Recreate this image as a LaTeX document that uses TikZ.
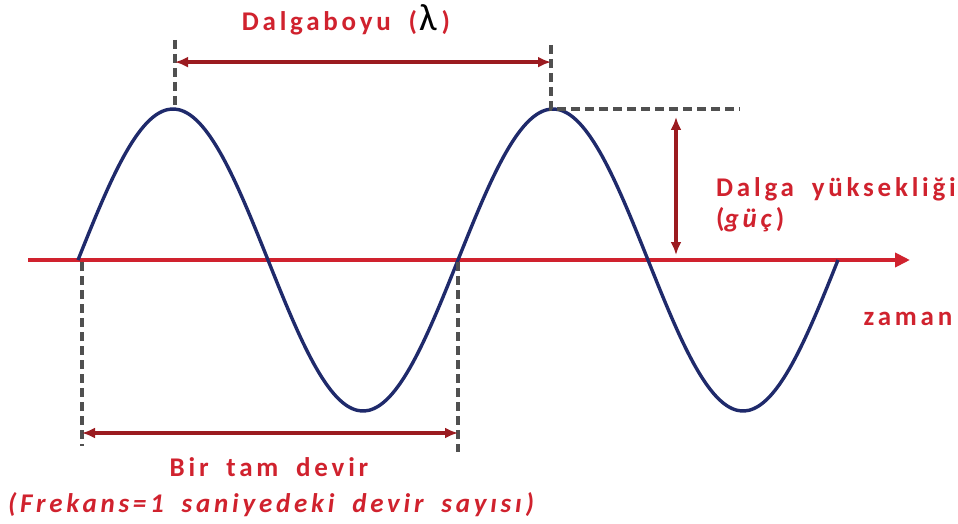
\documentclass[tikz,border=0pt]{standalone}
\usepackage{fontspec}
\setmainfont{Carlito}
\newfontfamily\lblfont[LetterSpace=14, WordSpace=1.8]{Carlito}
\newfontfamily\lamfont{Carlito}
\usetikzlibrary{arrows.meta, positioning, calc}
\definecolor{axisc}{HTML}{D0222E}
\definecolor{arrowc}{HTML}{9B1B20}
\definecolor{wavec}{HTML}{1F2A6B}
\definecolor{dashc}{HTML}{505050}

\begin{document}
\begin{tikzpicture}[
  x=1pt, y=-1pt,
  lbl/.style={text=axisc, font=\lblfont\bfseries\fontsize{27}{31}\selectfont, inner sep=0pt, anchor=base},
  guide/.style={dashc, line width=3.4pt, dash pattern=on 9pt off 5pt},
  dim/.style={{Latex[length=13pt,width=11pt]}-{Latex[length=13pt,width=11pt]}, arrowc, line width=3.4pt},
  axis/.style={-{Triangle[length=15pt,width=14pt]}, axisc, line width=4.6pt}
]
\useasboundingbox (0,0) rectangle (958,524);

% reference points
\coordinate (ax0) at (28,260);
\coordinate (ax1) at (910,260);
\coordinate (pk1) at (175,109);
\coordinate (pk2) at (551,109);
\coordinate (top1) at (175,40);
\coordinate (top2) at (551,45);
\coordinate (pkend) at (740,109);
\coordinate (z0) at (82,262);
\coordinate (z1) at (458,262);
\coordinate (bot0) at (82,446);
\coordinate (bot1) at (458,452);
\coordinate (ampt) at (676,117);
\coordinate (ampb) at (676,255);

% axis and wave
\draw[axis] (ax0) -- (ax1);
\draw[wavec, line width=3.4pt, line join=round]
  plot[domain=0:720, samples=181, smooth] ({78+\x/360*380}, {260-151*sin(\x)});

% guides
\draw[guide] (top1) -- (pk1);
\draw[guide] (top2) -- (pk2) -- (pkend);
\draw[guide] (z0) -- (bot0);
\draw[guide] (z1) -- (bot1);

% dimension arrows
\coordinate (wl0) at ($(top1)!0.32!(pk1)$);
\draw[dim] (wl0) -- (wl0 -| pk2);
\draw[dim] (ampt) -- (ampb);
\coordinate (cy0) at (82,433);
\draw[dim] (cy0) -- (cy0 -| z1);

% labels
\node[lbl] (wlen) at (346,31) {Dalgaboyu (\kern2pt{\lamfont\mdseries\color{black}\fontsize{38}{38}\selectfont λ}\kern5pt)};
\node[lbl, anchor=base west] (amp) at (716,196) {Dalga yüksekliği};
\node[lbl, anchor=base west] (pow) at (716,227) {(\textit{güç})};
\node[lbl] (time) at (908,325) {zaman};
\node[lbl] (cyc) at (269,476) {Bir tam devir};
\node[lbl, font=\lblfont\bfseries\itshape\fontsize{27}{31}\selectfont] (freq) at (271,512) {(Frekans=1 saniyedeki devir sayısı)};
\end{tikzpicture}
\end{document}
